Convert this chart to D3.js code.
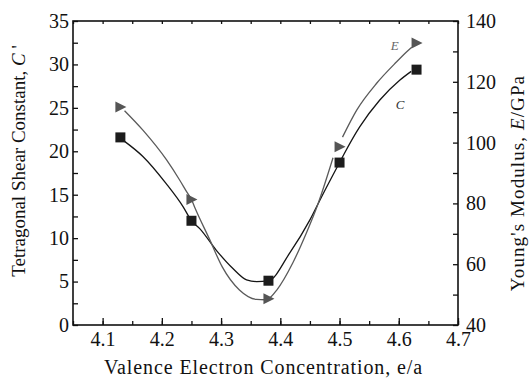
<!DOCTYPE html>
<html>
<head>
<meta charset="utf-8">
<script src="https://cdn.jsdelivr.net/npm/d3@7"></script>
<style>
  html, body { margin: 0; padding: 0; background: #fff; }
  svg text { font-family: "Liberation Serif", "Times New Roman", serif; }
</style>
</head>
<body>
<div class="chartBoard"></div>
<script>
// marker values
const vec = [4.13, 4.25, 4.38, 4.5, 4.63];        // valence electron concentration e/a
const shearC = [21.6, 12.0, 5.1, 18.7, 29.4];      // C' (left axis)
const youngE = [111.7, 81.3, 48.6, 98.6, 132.8];   // E, GPa (right axis)

// traced curves (hand drawn look in the original)
const cTraceX = [4.136, 4.168, 4.207, 4.236, 4.25, 4.264, 4.292, 4.32, 4.343, 4.36, 4.38, 4.416, 4.45, 4.47, 4.5, 4.507, 4.534, 4.568, 4.602, 4.621];
const cTraceY = [21.2, 19.4, 16.3, 13.6, 12.0, 11.1, 8.6, 6.5, 5.2, 5.0, 5.1, 8.3, 12.1, 14.8, 18.7, 19.6, 22.8, 25.9, 28.2, 29.2];
const eTraceLowX = [4.137, 4.168, 4.208, 4.23, 4.242, 4.25, 4.256, 4.281, 4.302, 4.331, 4.36, 4.374, 4.38, 4.394, 4.421, 4.444, 4.463, 4.489];
const eTraceLowY = [110.5, 104.1, 94.3, 87.7, 83.8, 81.3, 78.5, 68.0, 59.1, 51.5, 48.4, 48.3, 48.6, 51.5, 60.4, 70.3, 79.5, 95.0];
const eTraceHighX = [4.505, 4.529, 4.563, 4.596, 4.613, 4.622];
const eTraceHighY = [101.8, 110.7, 119.6, 126.5, 129.8, 131.4];

const xTicks = [4.1, 4.2, 4.3, 4.4, 4.5, 4.6, 4.7];
const leftTicks = [0, 5, 10, 15, 20, 25, 30, 35];
const rightTicks = [40, 60, 80, 100, 120, 140];

const w = 529, h = 379,
    m = { left: 73, right: 71, top: 21, bottom: 54 },
    serif = "'Liberation Serif', 'Times New Roman', serif";

const svg = d3.select(".chartBoard")
    .append("svg")
    .attr("width", w)
    .attr("height", h);

const xScale = d3.scaleLinear().domain([4.05, 4.7]).range([m.left, w - m.right]);
const yLeft = d3.scaleLinear().domain([0, 35]).range([h - m.bottom, m.top]);
const yRight = d3.scaleLinear().domain([40, 140]).range([h - m.bottom, m.top]);

const minorX = d3.range(4.05, 4.7001, 0.05).map(v => +v.toFixed(2));
const minorL = d3.range(0, 35.001, 2.5);
const minorR = d3.range(40, 140.001, 10);

// AXES
function styleAxis(g) {
    g.attr("font-family", serif).attr("font-size", 20);
    g.select(".domain").remove();
    g.selectAll("line").attr("stroke", "#111").attr("stroke-width", 1.3);
    g.selectAll("text").attr("fill", "#111").style("font-family", serif).style("font-size", "20px");
}

// minor ticks first, then labelled ones
svg.append("g")
    .attr("transform", `translate(0,${h - m.bottom})`)
    .call(d3.axisTop(xScale).tickValues(minorX).tickSize(4).tickFormat(""))
    .call(styleAxis);
svg.append("g")
    .attr("transform", `translate(0,${h - m.bottom})`)
    .call(d3.axisBottom(xScale).tickValues(xTicks).tickSize(0).tickPadding(7).tickFormat(d3.format(".1f")))
    .call(styleAxis);
svg.append("g")
    .attr("transform", `translate(0,${h - m.bottom})`)
    .call(d3.axisTop(xScale).tickValues(xTicks).tickSize(7).tickFormat(""))
    .call(styleAxis);
svg.append("g")
    .attr("transform", `translate(0,${m.top})`)
    .call(d3.axisBottom(xScale).tickValues(minorX).tickSize(3).tickFormat(""))
    .call(styleAxis);

svg.append("g")
    .attr("transform", `translate(${m.left},0)`)
    .call(d3.axisRight(yLeft).tickValues(minorL).tickSize(5).tickFormat(""))
    .call(styleAxis);
svg.append("g")
    .attr("transform", `translate(${m.left},0)`)
    .call(d3.axisLeft(yLeft).tickValues(leftTicks).tickSize(0).tickPadding(4))
    .call(styleAxis);

svg.append("g")
    .attr("transform", `translate(${w - m.right},0)`)
    .call(d3.axisLeft(yRight).tickValues(minorR).tickSize(5).tickFormat(""))
    .call(styleAxis);
svg.append("g")
    .attr("transform", `translate(${w - m.right},0)`)
    .call(d3.axisRight(yRight).tickValues(rightTicks).tickSize(0).tickPadding(8))
    .call(styleAxis);

// frame
svg.append("rect")
    .attr("x", m.left)
    .attr("y", m.top)
    .attr("width", w - m.left - m.right)
    .attr("height", h - m.top - m.bottom)
    .attr("fill", "none")
    .attr("stroke", "#111")
    .attr("stroke-width", 1.6);

// CURVES
const lineL = d3.line().x(d => xScale(d[0])).y(d => yLeft(d[1])).curve(d3.curveMonotoneX);
const lineR = d3.line().x(d => xScale(d[0])).y(d => yRight(d[1])).curve(d3.curveMonotoneX);

svg.append("path")
    .attr("d", lineL(d3.zip(cTraceX, cTraceY)))
    .attr("fill", "none")
    .attr("stroke", "#151515")
    .attr("stroke-width", 1.3);

[d3.zip(eTraceLowX, eTraceLowY), d3.zip(eTraceHighX, eTraceHighY)].forEach(seg => {
    svg.append("path")
        .attr("d", lineR(seg))
        .attr("fill", "none")
        .attr("stroke", "#5a5a5a")
        .attr("stroke-width", 1.3);
});

// MARKERS
svg.selectAll("rect.sq")
    .data(d3.zip(vec, shearC))
    .enter()
    .append("rect")
    .attr("class", "sq")
    .attr("x", d => xScale(d[0]) - 5)
    .attr("y", d => yLeft(d[1]) - 5)
    .attr("width", 10)
    .attr("height", 10)
    .attr("fill", "#1c1c1c");

svg.selectAll("path.tri")
    .data(d3.zip(vec, youngE))
    .enter()
    .append("path")
    .attr("class", "tri")
    .attr("d", "M-5,-5.5L6,0L-5,5.5Z")
    .attr("transform", d => `translate(${xScale(d[0])},${yRight(d[1])})`)
    .attr("fill", "#555");

// curve labels
svg.append("text")
    .attr("x", xScale(4.6))
    .attr("y", yRight(130.3))
    .attr("text-anchor", "end")
    .attr("fill", "#666")
    .style("font-size", "13px")
    .style("font-style", "italic")
    .text("E");
svg.append("text")
    .attr("x", xScale(4.595))
    .attr("y", yLeft(24.9))
    .attr("fill", "#333")
    .style("font-size", "13px")
    .style("font-style", "italic")
    .text("C");

// TITLES
svg.append("text")
    .attr("x", (m.left + w - m.right) / 2 - 2)
    .attr("y", 374)
    .attr("text-anchor", "middle")
    .attr("fill", "#111")
    .style("font-size", "20px")
    .style("letter-spacing", "0.9px")
    .text("Valence Electron Concentration, e/a");

const lt = svg.append("text")
    .attr("transform", "translate(25,161) rotate(-90)")
    .attr("text-anchor", "middle")
    .attr("fill", "#111")
    .style("font-size", "19px");
lt.append("tspan").text("Tetragonal Shear Constant, ");
lt.append("tspan").style("font-style", "italic").text("C");
lt.append("tspan").text(" '");

const rt = svg.append("text")
    .attr("transform", "translate(524,183) rotate(-90)")
    .attr("text-anchor", "middle")
    .attr("fill", "#111")
    .style("font-size", "19px")
    .style("letter-spacing", "1.1px");
rt.append("tspan").text("Young's Modulus, ");
rt.append("tspan").style("font-style", "italic").text("E");
rt.append("tspan").text("/GPa");
</script>
</body>
</html>
